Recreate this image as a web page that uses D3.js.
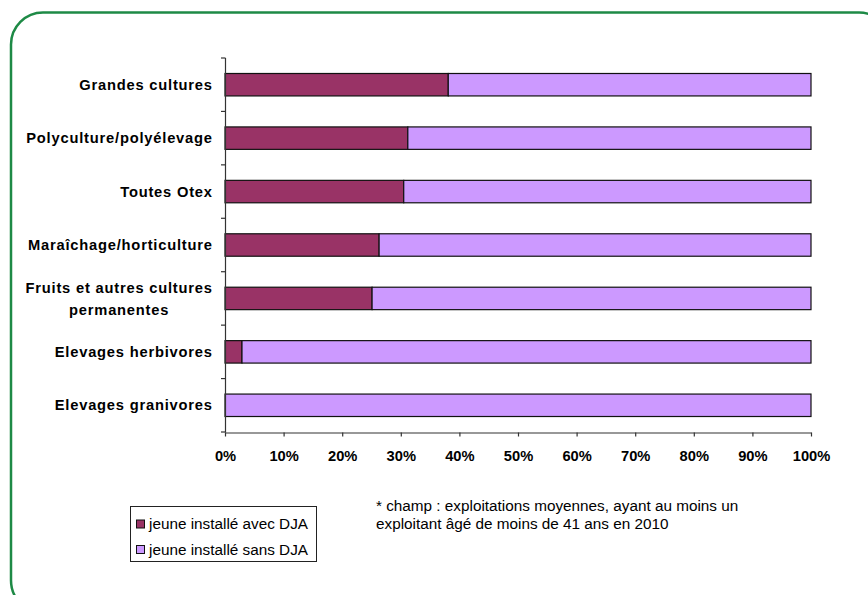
<!DOCTYPE html>
<html><head><meta charset="utf-8">
<script src="https://cdn.jsdelivr.net/npm/d3@7"></script>
<style>
html,body{margin:0;padding:0;background:#fff;}
svg{display:block;font-family:"Liberation Sans",Arial,sans-serif;}
</style></head>
<body>
<svg id="chart" width="868" height="595"></svg>
<script>
const categories = ["Grandes cultures","Polyculture/polyélevage","Toutes Otex","Maraîchage/horticulture","Fruits et autres cultures|permanentes","Elevages herbivores","Elevages granivores"];
const avecDJA = [38.1, 31.2, 30.5, 26.3, 25.1, 2.9, 0];
const sansDJA = avecDJA.map(v => 100 - v);
const seriesNames = ["jeune installé avec DJA","jeune installé sans DJA"];
const seriesColors = ["#993366","#CC99FF"];
const xTicks = [0,10,20,30,40,50,60,70,80,90,100];
const noteLines = ["* champ : exploitations moyennes, ayant au moins un","exploitant âgé de moins de 41 ans en 2010"];

const svg = d3.select("#chart");
svg.append("rect").attr("x",11).attr("y",12.5).attr("width",880).attr("height",600)
  .attr("rx",32).attr("fill","none").attr("stroke","#1e8a46").attr("stroke-width",2.5);

const x = d3.scaleLinear().domain([0,100]).range([225,811]);
const y = d3.scaleBand().domain(categories).range([58,432]).paddingInner(0.58).paddingOuter(0.29);

const stacked = categories.map((c,i)=>({c, parts:[{s:0,v0:0,v1:avecDJA[i]},{s:1,v0:avecDJA[i],v1:avecDJA[i]+sansDJA[i]}]}));
const g = svg.append("g");
stacked.forEach(d=>{
  d.parts.filter(p=>p.v1>p.v0).forEach(p=>{
    g.append("rect").attr("x",x(p.v0)).attr("y",y(d.c)).attr("width",x(p.v1)-x(p.v0)).attr("height",y.bandwidth())
      .attr("fill",seriesColors[p.s]).attr("stroke","#111").attr("stroke-width",1.2);
  });
});

// y axis line + ticks at band boundaries
const axisColor = "#333";
svg.append("line").attr("x1",225.5).attr("x2",225.5).attr("y1",58).attr("y2",432.5).attr("stroke",axisColor).attr("stroke-width",1.2);
for(let k=0;k<=categories.length;k++){
  const yy = 58 + k*y.step();
  svg.append("line").attr("x1",221).attr("x2",225.5).attr("y1",yy).attr("y2",yy).attr("stroke",axisColor).attr("stroke-width",1.2);
}
// category labels
categories.forEach(c=>{
  const lines = c.split("|");
  const cy = y(c)+y.bandwidth()/2;
  const lh = 22;
  const t0 = cy - (lines.length-1)*lh/2;
  const t = svg.append("text").attr("x",212.8).attr("y",t0).attr("dy","0.35em")
    .attr("text-anchor","end").attr("font-weight","bold").attr("font-size","14.7px")
    .attr("letter-spacing","0.8px").attr("fill","#000").text(lines[0]);
  if(lines.length>1){
    const w = t.node().getComputedTextLength();
    svg.append("text").attr("x",212.8 - w/2).attr("y",t0+lh).attr("dy","0.35em")
      .attr("text-anchor","middle").attr("font-weight","bold").attr("font-size","14.7px")
      .attr("letter-spacing","0.8px").attr("fill","#000").text(lines[1]);
  }
});

// x axis
const xa = svg.append("g").attr("transform","translate(0,432.5)")
  .call(d3.axisBottom(x).tickValues(xTicks).tickFormat(d=>d+"%").tickSize(4).tickSizeOuter(0).tickPadding(14));
xa.selectAll("path,line").attr("stroke",axisColor).attr("stroke-width",1.2);
xa.selectAll("text").attr("font-family","'Liberation Sans',Arial,sans-serif").attr("font-size","14.7px").attr("font-weight","bold").attr("fill","#000");

// legend
const lg = svg.append("g");
lg.append("rect").attr("x",130.5).attr("y",506.5).attr("width",186).attr("height",55).attr("fill","#fff").attr("stroke","#222").attr("stroke-width",1);
seriesNames.forEach((n,i)=>{
  const cy = 524 + i*25.5;
  lg.append("rect").attr("x",136.5).attr("y",cy-4).attr("width",8).attr("height",8).attr("fill",seriesColors[i]).attr("stroke","#111").attr("stroke-width",1);
  lg.append("text").attr("x",149).attr("y",cy).attr("dy","0.35em").attr("font-size","15.3px").attr("fill","#000").text(n);
});
// note
noteLines.forEach((l,i)=>{
  svg.append("text").attr("x",376).attr("y",506+i*18).attr("dy","0.35em").attr("font-size","15.3px").attr("fill","#000").text(l);
});
</script>
</body></html>
